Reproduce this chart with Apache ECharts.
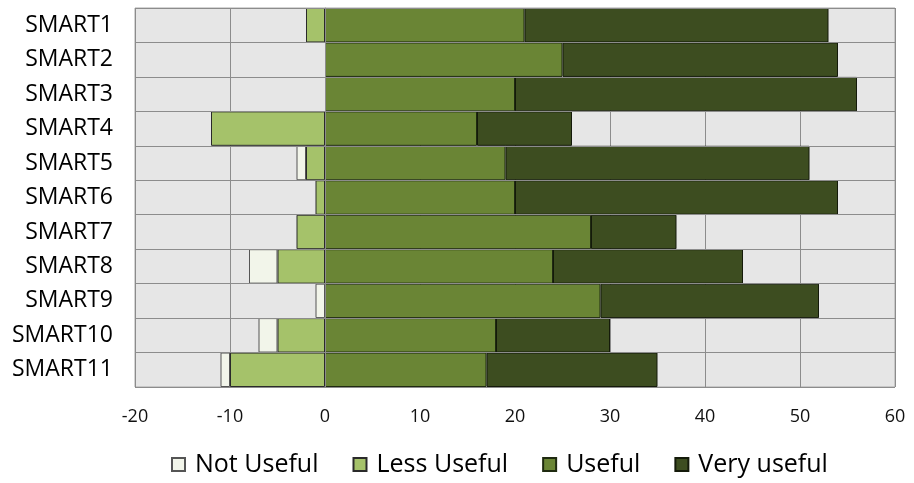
<!DOCTYPE html>
<html>
<head>
<meta charset="utf-8">
<script src="https://cdn.jsdelivr.net/npm/echarts@6/dist/echarts.min.js"></script>
<style>
  html, body { margin: 0; padding: 0; background: #fff; }
  #chart { width: 914px; height: 483px; }
</style>
</head>
<body>
<div id="chart"></div>
<script>
// Survey responses per SMART item (counts of respondents)
const categories = ['SMART1','SMART2','SMART3','SMART4','SMART5','SMART6','SMART7','SMART8','SMART9','SMART10','SMART11'];
const notUseful  = [0, 0, 0, 0, 1, 0, 0, 3, 1, 2, 1];
const lessUseful = [2, 0, 0, 12, 2, 1, 3, 5, 0, 5, 10];
const useful     = [21, 25, 20, 16, 19, 20, 28, 24, 29, 18, 17];
const veryUseful = [32, 29, 36, 10, 32, 34, 9, 20, 23, 12, 18];
const xTicks = { min: -20, max: 60, step: 10 };

const FONT = '"Open Sans", "Noto Sans", sans-serif';

// negative responses are drawn to the left of zero
const neg = arr => arr.map(v => v === 0 ? '-' : -v);
const pos = arr => arr.map(v => v === 0 ? '-' : v);

const chart = echarts.init(document.getElementById('chart'), null, { renderer: 'canvas' });

function barSeries(name, data, color, border) {
  return {
    name, type: 'bar', stack: 'total', data,
    barCategoryGap: 0,
    itemStyle: { color, borderColor: border, borderWidth: 1 },
    emphasis: { disabled: true }
  };
}

chart.setOption({
  animation: false,
  textStyle: { fontFamily: FONT },
  grid: {
    left: 135, right: 19, top: 8, bottom: 96,
    show: true, backgroundColor: '#E6E6E6', borderColor: '#A8A8A8', borderWidth: 1
  },
  legend: {
    bottom: 1, left: 166,
    data: ['Not Useful', 'Less Useful', 'Useful', 'Very useful'],
    icon: 'rect', itemWidth: 13, itemHeight: 13, itemGap: 34,
    textStyle: { fontSize: 25, color: '#000', fontFamily: FONT, padding: [0, 0, 0, 5] }
  },
  xAxis: {
    type: 'value', min: xTicks.min, max: xTicks.max, interval: xTicks.step,
    axisLine: { show: false }, axisTick: { show: false },
    axisLabel: { fontSize: 18, color: '#111', margin: 21, fontFamily: FONT },
    splitLine: { show: true, lineStyle: { color: '#8C8C8C', width: 1 } }
  },
  yAxis: {
    type: 'category', data: categories, inverse: true, z: 5,
    axisLine: { show: true, onZero: true, lineStyle: { color: '#8C8C8C', width: 1 } },
    axisTick: { show: false },
    axisLabel: { fontSize: 23, color: '#000', margin: 22, fontFamily: FONT },
    splitLine: { show: true, lineStyle: { color: '#8C8C8C', width: 1 } }
  },
  series: [
    barSeries('Less Useful', neg(lessUseful), '#A5C26A', '#2a2a2a'),
    barSeries('Not Useful', neg(notUseful), '#F2F5EA', '#555555'),
    barSeries('Useful', pos(useful), '#6A8535', '#1f2a10'),
    barSeries('Very useful', pos(veryUseful), '#3D4D20', '#141a0a')
  ]
});
</script>
</body>
</html>
